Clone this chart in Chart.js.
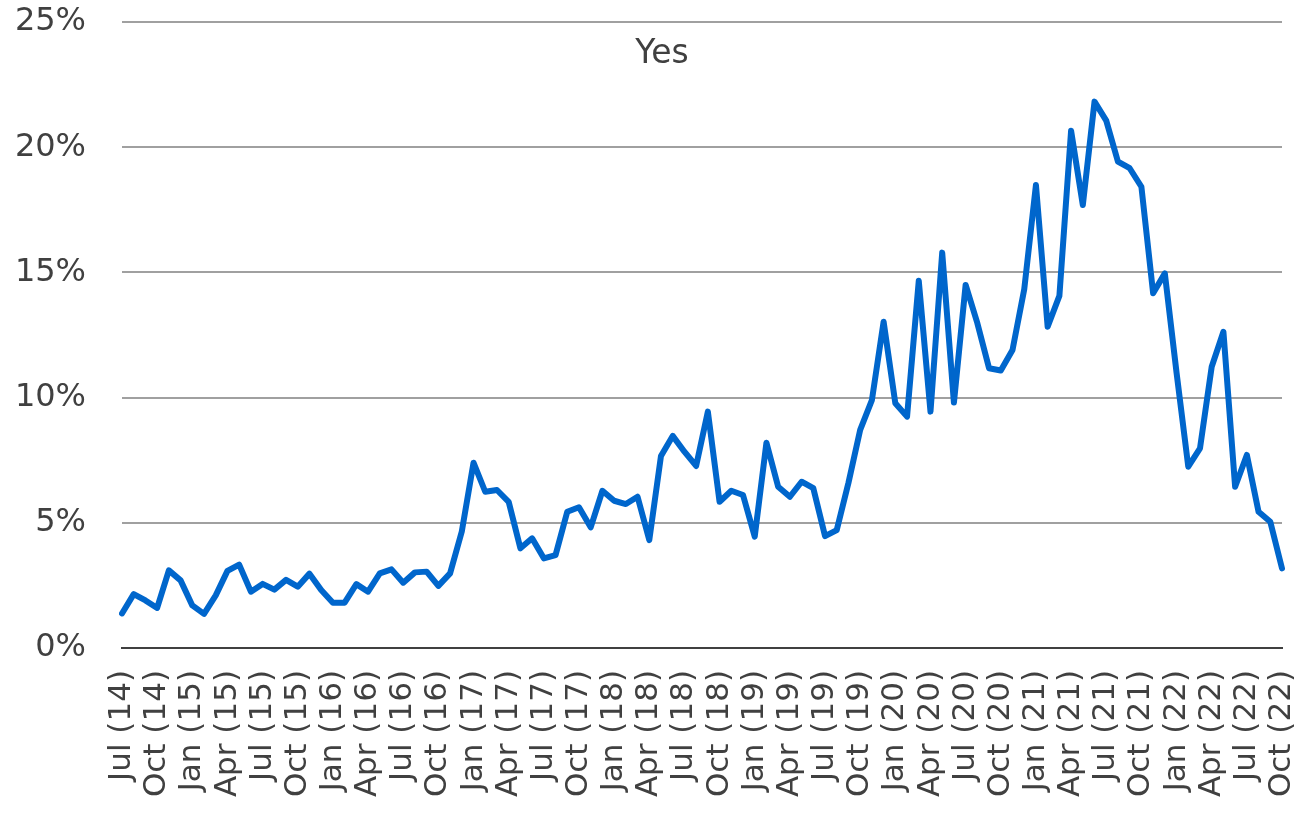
<!DOCTYPE html>
<html>
<head>
<meta charset="utf-8">
<script src="https://cdn.jsdelivr.net/npm/chart.js@4/dist/chart.umd.min.js"></script>
<style>
  html, body { margin: 0; padding: 0; background: #fff; }
  #wrap { width: 1302px; height: 814px; position: relative; }
</style>
</head>
<body>
<div id="wrap"><canvas id="cht-yes"></canvas></div>
<script>
// monthly categories, Jul 2014 - Oct 2022
var months = [
  'Jul (14)','Aug (14)','Sep (14)','Oct (14)','Nov (14)','Dec (14)',
  'Jan (15)','Feb (15)','Mar (15)','Apr (15)','May (15)','Jun (15)','Jul (15)','Aug (15)','Sep (15)','Oct (15)','Nov (15)','Dec (15)',
  'Jan (16)','Feb (16)','Mar (16)','Apr (16)','May (16)','Jun (16)','Jul (16)','Aug (16)','Sep (16)','Oct (16)','Nov (16)','Dec (16)',
  'Jan (17)','Feb (17)','Mar (17)','Apr (17)','May (17)','Jun (17)','Jul (17)','Aug (17)','Sep (17)','Oct (17)','Nov (17)','Dec (17)',
  'Jan (18)','Feb (18)','Mar (18)','Apr (18)','May (18)','Jun (18)','Jul (18)','Aug (18)','Sep (18)','Oct (18)','Nov (18)','Dec (18)',
  'Jan (19)','Feb (19)','Mar (19)','Apr (19)','May (19)','Jun (19)','Jul (19)','Aug (19)','Sep (19)','Oct (19)','Nov (19)','Dec (19)',
  'Jan (20)','Feb (20)','Mar (20)','Apr (20)','May (20)','Jun (20)','Jul (20)','Aug (20)','Sep (20)','Oct (20)','Nov (20)','Dec (20)',
  'Jan (21)','Feb (21)','Mar (21)','Apr (21)','May (21)','Jun (21)','Jul (21)','Aug (21)','Sep (21)','Oct (21)','Nov (21)','Dec (21)',
  'Jan (22)','Feb (22)','Mar (22)','Apr (22)','May (22)','Jun (22)','Jul (22)','Aug (22)','Sep (22)','Oct (22)'
];

// share answering "Yes", in %
var yesValues = [
  1.38, 2.15, 1.90, 1.60, 3.10, 2.70,
  1.70, 1.36, 2.10, 3.08, 3.33, 2.25, 2.56, 2.33, 2.72, 2.45, 2.97, 2.32,
  1.81, 1.81, 2.55, 2.25, 2.98, 3.14, 2.61, 3.02, 3.05, 2.48, 2.98, 4.65,
  7.40, 6.24, 6.31, 5.84, 3.98, 4.38, 3.58, 3.71, 5.44, 5.62, 4.82, 6.28,
  5.88, 5.75, 6.04, 4.31, 7.67, 8.47, 7.84, 7.27, 9.44, 5.84, 6.28, 6.11,
  4.45, 8.20, 6.44, 6.04, 6.64, 6.38, 4.47, 4.71, 6.60, 8.71, 9.90, 13.03,
  9.77, 9.24, 14.67, 9.44, 15.79, 9.80, 14.50, 12.97, 11.17, 11.08, 11.90, 14.32,
  18.49, 12.83, 14.06, 20.66, 17.69, 21.82, 21.06, 19.42, 19.16, 18.42, 14.17, 14.96,
  11.00, 7.24, 7.97, 11.23, 12.63, 6.44, 7.71, 5.44, 5.04, 3.18
];

var yTicks = [0, 5, 10, 15, 20, 25];
var titleText = 'Yes';

var txt = '#404040';
var fnt = 'DejaVu Sans';

// Excel put the title inside the plot, just under the top gridline
var titleInside = {
  id: 'titleInside',
  afterDraw: function (chart) {
    var ctx = chart.ctx;
    ctx.save();
    ctx.font = '33px "' + fnt + '"';
    ctx.fillStyle = txt;
    ctx.textAlign = 'center';
    ctx.textBaseline = 'alphabetic';
    ctx.fillText(titleText, 662, 63);
    ctx.restore();
  }
};

function noPad(s) {
  s.paddingTop = 0; s.paddingBottom = 0; s.paddingLeft = 0; s.paddingRight = 0;
}

var chY = document.getElementById('cht-yes');
var chtYes = new Chart(chY, {
  type: 'line',
  data: {
    labels: months,
    datasets: [{
      label: titleText,
      data: yesValues,
      fill: false,
      borderColor: '#0066CC',
      backgroundColor: '#0066CC',
      borderWidth: 6,
      borderJoinStyle: 'round',
      borderCapStyle: 'round',
      pointRadius: 0,
      tension: 0
    }]
  },
  options: {
    responsive: true,
    maintainAspectRatio: false,
    animation: false,
    layout: { padding: { top: 22, right: 20, left: 0, bottom: 0 } },
    plugins: {
      legend: { display: false },
      title: { display: false },
      tooltip: { enabled: false }
    },
    scales: {
      x: {
        offset: false,
        grid: { display: false, drawTicks: false },
        border: { display: true, color: '#404040', width: 2 },
        ticks: {
          autoSkip: false,
          maxRotation: 90,
          minRotation: 90,
          padding: 22,
          color: txt,
          font: { family: fnt, size: 31 },
          callback: function (v, i) { return i % 3 === 0 ? months[i] : ''; }
        },
        afterFit: function (s) { s.height = 166; noPad(s); }
      },
      y: {
        min: 0,
        max: 25,
        afterBuildTicks: function (s) { s.ticks = yTicks.map(function (v) { return { value: v }; }); },
        grid: { color: '#a0a0a0', lineWidth: 2, drawTicks: false },
        border: { display: false },
        ticks: {
          padding: 36,
          color: txt,
          font: { family: fnt, size: 32 },
          callback: function (v) { return v + '%'; }
        },
        afterFit: function (s) { s.width = 122; noPad(s); }
      }
    }
  },
  plugins: [titleInside]
});
</script>
</body>
</html>
